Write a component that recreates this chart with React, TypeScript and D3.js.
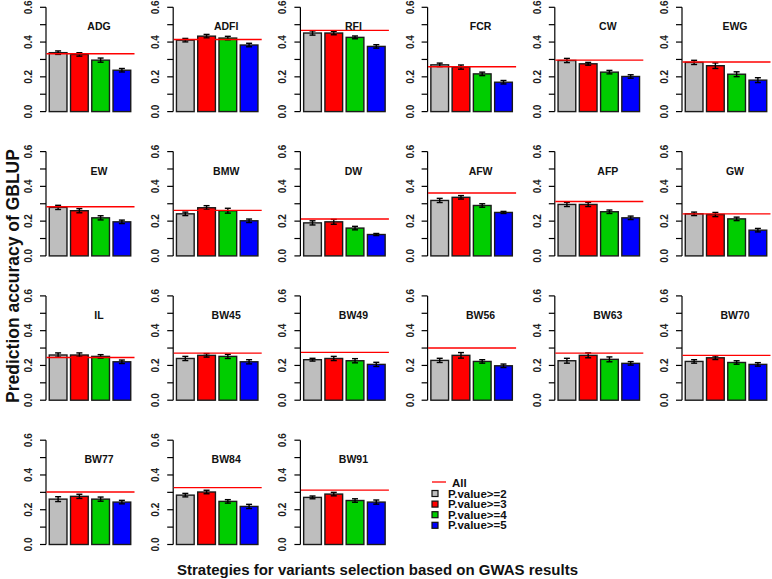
import { useEffect, useRef } from 'react';
import * as d3 from 'd3';

const traits = [
  'ADG', 'ADFI', 'RFI', 'FCR', 'CW', 'EWG',
  'EW', 'BMW', 'DW', 'AFW', 'AFP', 'GW',
  'IL', 'BW45', 'BW49', 'BW56', 'BW63', 'BW70',
  'BW77', 'BW84', 'BW91',
];

const strategies = ['P.value>=2', 'P.value>=3', 'P.value>=4', 'P.value>=5'];
const strategyColors = ['#bebebe', '#ff0000', '#00cd00', '#0000ff'];

// accuracy per trait, one value per strategy
const accuracy = [
  [0.339, 0.329, 0.296, 0.238],
  [0.411, 0.434, 0.423, 0.383],
  [0.452, 0.452, 0.427, 0.375],
  [0.269, 0.256, 0.217, 0.169],
  [0.294, 0.275, 0.227, 0.202],
  [0.283, 0.264, 0.215, 0.181],
  [0.279, 0.26, 0.219, 0.196],
  [0.242, 0.277, 0.26, 0.202],
  [0.19, 0.196, 0.16, 0.123],
  [0.319, 0.337, 0.29, 0.25],
  [0.296, 0.296, 0.254, 0.219],
  [0.242, 0.238, 0.213, 0.148],
  [0.26, 0.26, 0.252, 0.221],
  [0.24, 0.258, 0.252, 0.221],
  [0.233, 0.24, 0.227, 0.206],
  [0.229, 0.258, 0.223, 0.198],
  [0.227, 0.258, 0.235, 0.212],
  [0.223, 0.244, 0.217, 0.206],
  [0.261, 0.277, 0.261, 0.244],
  [0.284, 0.302, 0.248, 0.219],
  [0.271, 0.29, 0.253, 0.244],
];

const errors = [
  [0.01, 0.01, 0.012, 0.01],
  [0.01, 0.01, 0.01, 0.01],
  [0.012, 0.01, 0.008, 0.01],
  [0.01, 0.012, 0.01, 0.01],
  [0.012, 0.008, 0.01, 0.01],
  [0.012, 0.016, 0.014, 0.014],
  [0.012, 0.012, 0.012, 0.01],
  [0.01, 0.012, 0.014, 0.01],
  [0.012, 0.014, 0.01, 0.006],
  [0.012, 0.01, 0.01, 0.006],
  [0.012, 0.012, 0.01, 0.01],
  [0.01, 0.012, 0.01, 0.01],
  [0.012, 0.012, 0.01, 0.01],
  [0.012, 0.01, 0.012, 0.012],
  [0.008, 0.012, 0.012, 0.012],
  [0.012, 0.016, 0.01, 0.01],
  [0.014, 0.014, 0.014, 0.01],
  [0.01, 0.01, 0.01, 0.01],
  [0.014, 0.012, 0.012, 0.01],
  [0.01, 0.01, 0.01, 0.012],
  [0.008, 0.01, 0.01, 0.012],
];

// accuracy using all variants (red line)
const allVariants = [
  0.333, 0.415, 0.467, 0.258, 0.296, 0.285,
  0.283, 0.262, 0.212, 0.362, 0.313, 0.242,
  0.246, 0.271, 0.275, 0.3, 0.271, 0.258,
  0.302, 0.327, 0.313,
];

const yTicks = [0, 0.1, 0.2, 0.3, 0.4, 0.5, 0.6];

const WIDTH = 772;
const HEIGHT = 579;
const FONT = '"Liberation Sans", Arial, sans-serif';

export default function App() {
  const svgRef = useRef<SVGSVGElement>(null);

  useEffect(() => {
    document.body.style.margin = '0';
    if (!svgRef.current) return;
    const svg = d3.select(svgRef.current);
    svg.selectAll('*').remove();

    const colStep = 127.2;
    const rowStep = 144.3;
    const panelH = 104.3;
    const panelW = 88;

    traits.forEach((trait, t) => {
      const col = t % 6;
      const row = Math.floor(t / 6);
      const x0 = 46 + col * colStep;
      const top = 7.3 + row * rowStep;

      const y = d3.scaleLinear().domain([0, 0.6]).range([top + panelH, top]);
      const x = d3.scaleLinear().domain([0.016, 4.984]).range([x0, x0 + panelW]);

      const g = svg.append('g');

      // y axis
      g.append('line')
        .attr('x1', x0).attr('x2', x0)
        .attr('y1', y(0)).attr('y2', y(0.6))
        .attr('stroke', '#000').attr('stroke-width', 1.2);

      yTicks.forEach((v, i) => {
        g.append('line')
          .attr('x1', x0 - 6).attr('x2', x0)
          .attr('y1', y(v)).attr('y2', y(v))
          .attr('stroke', '#000').attr('stroke-width', 1.2);
        if (i % 2 === 0) {
          g.append('text')
            .attr('transform', `translate(${x0 - 14},${y(v)}) rotate(-90)`)
            .attr('text-anchor', 'middle')
            .attr('font-family', FONT)
            .attr('font-weight', 'bold')
            .attr('font-size', 10)
            .attr('fill', '#222')
            .text(v.toFixed(1));
        }
      });

      // bars
      accuracy[t].forEach((v, i) => {
        const left = 0.2 + i * 1.2;
        g.append('rect')
          .attr('x', x(left))
          .attr('y', y(v))
          .attr('width', x(left + 1) - x(left))
          .attr('height', y(0) - y(v))
          .attr('fill', strategyColors[i])
          .attr('stroke', '#1a1a1a')
          .attr('stroke-width', 1.4);

        const cx = x(left + 0.5);
        const e = errors[t][i];
        g.append('line')
          .attr('x1', cx).attr('x2', cx)
          .attr('y1', y(v - e)).attr('y2', y(v + e))
          .attr('stroke', '#000').attr('stroke-width', 1.4);
        [v - e, v + e].forEach((c) => {
          g.append('line')
            .attr('x1', cx - 3).attr('x2', cx + 3)
            .attr('y1', y(c)).attr('y2', y(c))
            .attr('stroke', '#000').attr('stroke-width', 1.4);
        });
      });

      // all-variants reference line
      g.append('line')
        .attr('x1', x0 + 0.5).attr('x2', x0 + panelW + 0.5)
        .attr('y1', y(allVariants[t])).attr('y2', y(allVariants[t]))
        .attr('stroke', '#ff0000').attr('stroke-width', 1.4);

      g.append('text')
        .attr('x', x0 + 53)
        .attr('y', top + 23)
        .attr('text-anchor', 'middle')
        .attr('font-family', FONT)
        .attr('font-weight', 'bold')
        .attr('font-size', 10.5)
        .attr('fill', '#111')
        .text(trait);
    });

    // legend
    const legend = svg.append('g');
    legend.append('line')
      .attr('x1', 432).attr('x2', 446)
      .attr('y1', 482).attr('y2', 482)
      .attr('stroke', '#ff0000').attr('stroke-width', 1.3);
    legend.append('text')
      .attr('x', 452).attr('y', 486.5)
      .attr('font-family', FONT).attr('font-weight', 'bold')
      .attr('font-size', 11.5).attr('fill', '#111')
      .text('All');
    strategies.forEach((s, i) => {
      const cy = 493.5 + i * 10.6;
      legend.append('rect')
        .attr('x', 432).attr('y', cy - 3)
        .attr('width', 6).attr('height', 6)
        .attr('fill', strategyColors[i])
        .attr('stroke', '#111').attr('stroke-width', 1.2);
      legend.append('text')
        .attr('x', 448).attr('y', cy + 4)
        .attr('font-family', FONT).attr('font-weight', 'bold')
        .attr('font-size', 11.5).attr('fill', '#111')
        .text(s);
    });

    // axis titles
    svg.append('text')
      .attr('transform', 'translate(19,276) rotate(-90)')
      .attr('text-anchor', 'middle')
      .attr('font-family', FONT).attr('font-weight', 'bold')
      .attr('font-size', 17.5).attr('fill', '#111')
      .text('Prediction accuracy of GBLUP');

    svg.append('text')
      .attr('x', 377.5).attr('y', 575)
      .attr('text-anchor', 'middle')
      .attr('font-family', FONT).attr('font-weight', 'bold')
      .attr('font-size', 15).attr('fill', '#111')
      .text('Strategies for variants selection based on GWAS results');
  }, []);

  return (
    <svg
      ref={svgRef}
      width={WIDTH}
      height={HEIGHT}
      style={{ display: 'block', background: '#fff' }}
    />
  );
}
